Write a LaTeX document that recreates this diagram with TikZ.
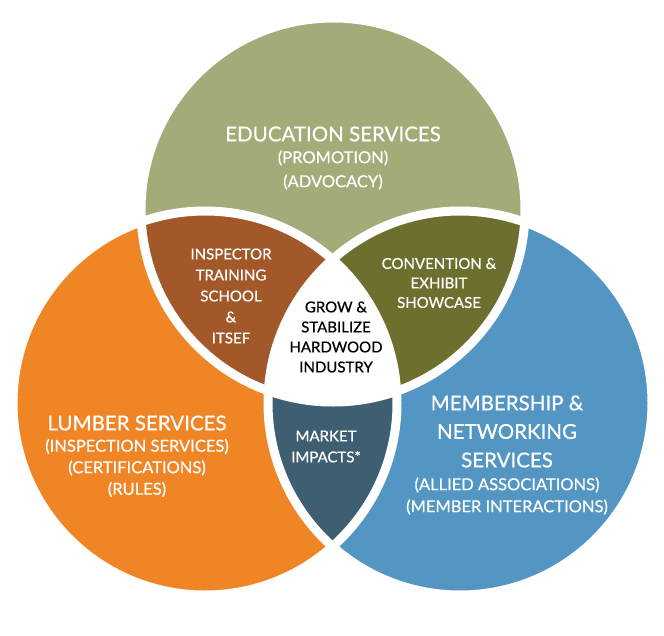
\documentclass[tikz,border=0pt]{standalone}
\usepackage{fontspec}
\setmainfont{Lato}[FakeBold=0.6]
\usetikzlibrary{positioning}

\definecolor{edugreen}{HTML}{A3AB78}
\definecolor{lumberorange}{HTML}{F08526}
\definecolor{memberblue}{HTML}{5496C3}
\definecolor{itsbrown}{HTML}{A3582A}
\definecolor{convolive}{HTML}{6C6F2E}
\definecolor{marketslate}{HTML}{3E5E72}

\begin{document}
\begin{tikzpicture}[x=1pt,y=-1pt,
  titletext/.style={text=white, align=center, inner sep=0pt, font=\fontsize{20.5}{28.5}\selectfont},
  subtext/.style={text=white, align=center, inner sep=0pt, font=\fontsize{16.5}{22}\selectfont},
  overlaptext/.style={text=white, align=center, inner sep=0pt, font=\fontsize{15}{21}\selectfont},
  coretext/.style={text=black, align=center, inner sep=0pt, font=\fontsize{15}{20}\selectfont}]
  \useasboundingbox (0,0) rectangle (664,635);

  % Three fields
  \fill[edugreen] (333,210) circle (192pt);
  \fill[lumberorange] (205,403) circle (192pt);
  \fill[memberblue] (460,403) circle (192pt);

  % Pairwise overlaps
  \begin{scope}
    \clip (333,210) circle (192pt);
    \fill[itsbrown] (205,403) circle (192pt);
    \fill[convolive] (460,403) circle (192pt);
  \end{scope}
  \begin{scope}
    \clip (205,403) circle (192pt);
    \fill[marketslate] (460,403) circle (192pt);
  \end{scope}

  % Common core
  \begin{scope}
    \clip (333,210) circle (192pt);
    \clip (205,403) circle (192pt);
    \fill[white] (460,403) circle (192pt);
  \end{scope}

  % White rims
  \draw[white, line width=9pt] (333,210) circle (192pt);
  \draw[white, line width=9pt] (205,403) circle (192pt);
  \draw[white, line width=9pt] (460,403) circle (192pt);

  % Top field - Education
  \node[titletext] (edutitle) at (333,134) {EDUCATION SERVICES};
  \node[subtext, font=\fontsize{16.5}{24}\selectfont] (edusub) at (333,170) {(PROMOTION)\\(ADVOCACY)};

  % Left field - Lumber
  \node[titletext] (lumbertitle) at (137,423) {LUMBER SERVICES};
  \node[subtext, font=\fontsize{16.5}{21.5}\selectfont] (lumbersub) at (137,468) {(INSPECTION SERVICES)\\(CERTIFICATIONS)\\(RULES)};

  % Right field - Membership
  \node[titletext] (membertitle) at (507,431.5) {MEMBERSHIP \&\\NETWORKING\\SERVICES};
  \node[subtext] (membersub) at (507,496) {(ALLIED ASSOCIATIONS)\\(MEMBER INTERACTIONS)};

  % Overlaps
  \node[overlaptext] (itsef) at (231,296) {INSPECTOR\\TRAINING\\SCHOOL\\\&\\ITSEF};
  \node[overlaptext, font=\fontsize{15}{19.5}\selectfont] (convention) at (439,283) {CONVENTION \&\\EXHIBIT\\SHOWCASE};
  \node[overlaptext] (market) at (326,446.5) {MARKET\\IMPACTS*};

  % Core
  \node[coretext] (core) at (336,337) {GROW \&\\STABILIZE\\HARDWOOD\\INDUSTRY};
\end{tikzpicture}
\end{document}
